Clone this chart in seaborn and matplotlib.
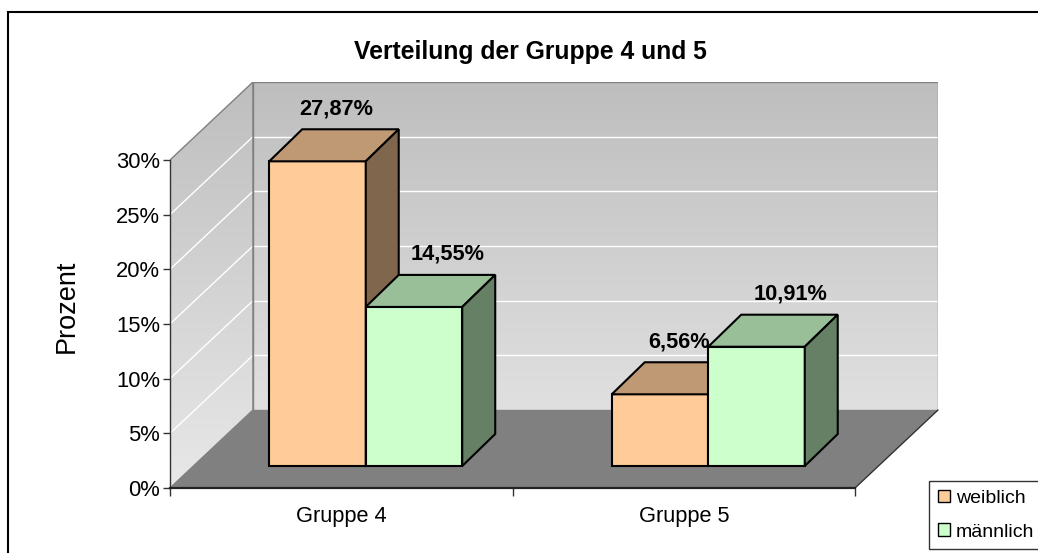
import numpy as np
import pandas as pd
import matplotlib
matplotlib.use("Agg")
import matplotlib.pyplot as plt
import seaborn as sns
from matplotlib.patches import Polygon, Rectangle, Patch
from matplotlib.colors import LinearSegmentedColormap, to_rgba

# data
groups = ["Gruppe 4", "Gruppe 5"]
hues = ["weiblich", "männlich"]
weiblich = [27.87, 6.56]
maennlich = [14.55, 10.91]
yticks = [0, 5, 10, 15, 20, 25, 30]

df = pd.DataFrame({
    "Gruppe": groups * 2,
    "Geschlecht": [hues[0]] * 2 + [hues[1]] * 2,
    "Prozent": weiblich + maennlich,
})

front_col = {"weiblich": "#FFCC99", "männlich": "#CCFFCC"}
top_col = {"weiblich": "#BF9973", "männlich": "#99BF99"}
side_col = {"weiblich": "#80664D", "männlich": "#668066"}
label_dx = {"weiblich": 19, "männlich": 34}  # pixel nudge of value labels

# fake 3d geometry in data units
Dx, Dy = 0.2423, 7.134   # depth of floor / walls
fx, fy = 0.0715, 2.01    # bars are set back from the front edge
bx, by = 0.0963, 2.93    # depth of a bar
x_left, x_right = -0.5, 1.5
ymax = yticks[-1]

sns.set_style("white")
plt.rcParams["font.family"] = ["Liberation Sans", "DejaVu Sans"]
plt.rcParams.update({"text.color": "black", "axes.labelcolor": "black",
                     "xtick.color": "black", "ytick.color": "black"})

W, H = 1038, 553
fig = plt.figure(figsize=(W / 100, H / 100), dpi=100)
ax = fig.add_axes([170 / W, (H - 488) / H, 768 / W, 406 / H])

sns.barplot(data=df, x="Gruppe", y="Prozent", hue="Geschlecht",
            palette=front_col, saturation=1, width=0.5635,
            edgecolor="black", linewidth=1.5, legend=False, ax=ax)

# walls with gradient
cmap = LinearSegmentedColormap.from_list("wall", ["#E8E8E8", "#BEBEBE"])
grad = np.linspace(0, 1, 256).reshape(-1, 1)
back = Polygon([(x_left + Dx, Dy), (x_right + Dx, Dy),
                (x_right + Dx, ymax + Dy), (x_left + Dx, ymax + Dy)],
               closed=True, facecolor="none", edgecolor="#808080", lw=1, zorder=1.2)
side = Polygon([(x_left, 0), (x_left + Dx, Dy), (x_left + Dx, ymax + Dy), (x_left, ymax)],
               closed=True, facecolor="none", edgecolor="#808080", lw=1, zorder=1.2)
for wall in (back, side):
    ax.add_patch(wall)
    im = ax.imshow(grad, cmap=cmap, origin="lower", aspect="auto",
                   extent=(x_left, x_right + Dx, 0, ymax + Dy), zorder=0.5)
    im.set_clip_path(wall)

for t in yticks[1:-1]:
    ax.plot([x_left + Dx, x_right + Dx], [t + Dy, t + Dy], color="white", lw=1, zorder=1)
    ax.plot([x_left, x_left + Dx], [t, t + Dy], color="white", lw=1, zorder=1)

floor = Polygon([(x_left, 0), (x_right, 0), (x_right + Dx, Dy), (x_left + Dx, Dy)],
                closed=True, facecolor="#808080", edgecolor="none", zorder=1.5)
ax.add_patch(floor)
ax.plot([x_right, x_right + Dx], [0, Dy], color="#333333", lw=1, zorder=1.6, clip_on=False)

# turn flat bars into boxes
bars = sorted(ax.patches[:4], key=lambda p: p.get_x())
for i, bar in enumerate(bars):
    fc = bar.get_facecolor()
    hue = [h for h in hues if np.allclose(to_rgba(front_col[h]), fc)][0]
    h = bar.get_height()
    bar.set_x(bar.get_x() + fx)
    bar.set_y(fy)
    z = 3 + i
    bar.set_zorder(z)
    x0, x1 = bar.get_x(), bar.get_x() + bar.get_width()
    y0, y1 = fy, fy + h
    ax.add_patch(Polygon([(x0, y1), (x1, y1), (x1 + bx, y1 + by), (x0 + bx, y1 + by)],
                         closed=True, facecolor=top_col[hue], edgecolor="black",
                         lw=1.5, zorder=z + 0.5))
    ax.add_patch(Polygon([(x1, y0), (x1 + bx, y0 + by), (x1 + bx, y1 + by), (x1, y1)],
                         closed=True, facecolor=side_col[hue], edgecolor="black",
                         lw=1.5, zorder=z + 0.5))
    ax.annotate(f"{h:.2f}%".replace(".", ","), ((x0 + x1) / 2, y1),
                xytext=(label_dx[hue], 52.5), textcoords="offset pixels",
                ha="center", va="center", fontsize=15.7, fontweight="bold", zorder=20)

ax.set_xlim(x_left, x_right + Dx)
ax.set_ylim(0, ymax + Dy)

for s in ["top", "right"]:
    ax.spines[s].set_visible(False)
ax.spines["left"].set_bounds(0, ymax)
ax.spines["left"].set_color("#333333")
ax.spines["left"].set_linewidth(1)
ax.spines["bottom"].set_bounds(x_left, x_right)
ax.spines["bottom"].set_color("#222222")
ax.spines["bottom"].set_linewidth(1.6)

ax.set_yticks(yticks)
ax.set_yticklabels([f"{t}%" for t in yticks])
ax.set_xticks([0, 1])
ax.set_xticklabels(groups)
ax.set_xticks([x_left, 0.5, x_right], minor=True)
ax.tick_params(axis="y", length=5, width=1, pad=2, labelsize=15.8, color="#333333", left=True)
ax.tick_params(axis="x", which="major", length=0, pad=13, labelsize=15.7)
ax.tick_params(axis="x", which="minor", length=6, width=1, color="#333333", bottom=True)

ax.set_xlabel("")
ax.set_ylabel("Prozent", fontsize=19.5)
ax.yaxis.set_label_coords(-0.117, 0.448)

fig.text(530 / W, 1 - 52 / H, "Verteilung der Gruppe 4 und 5", ha="center", va="center",
         fontsize=17.8, fontweight="bold")

handles = [Patch(facecolor=front_col[h], edgecolor="black", label=h) for h in hues]
fig.legend(handles=handles, loc="upper left", bbox_to_anchor=(929 / W, 1 - 481 / H),
           frameon=True, fancybox=False, edgecolor="black", fontsize=14,
           handlelength=0.62, handleheight=0.62, handletextpad=0.3,
           borderpad=0.45, labelspacing=0.85, borderaxespad=0)

fig.add_artist(Rectangle((8 / W, -0.1), 1.2, 1 - 12 / H + 0.1, transform=fig.transFigure,
                         fill=False, edgecolor="black", lw=1.5))

fig.savefig("out.png", dpi=100)
